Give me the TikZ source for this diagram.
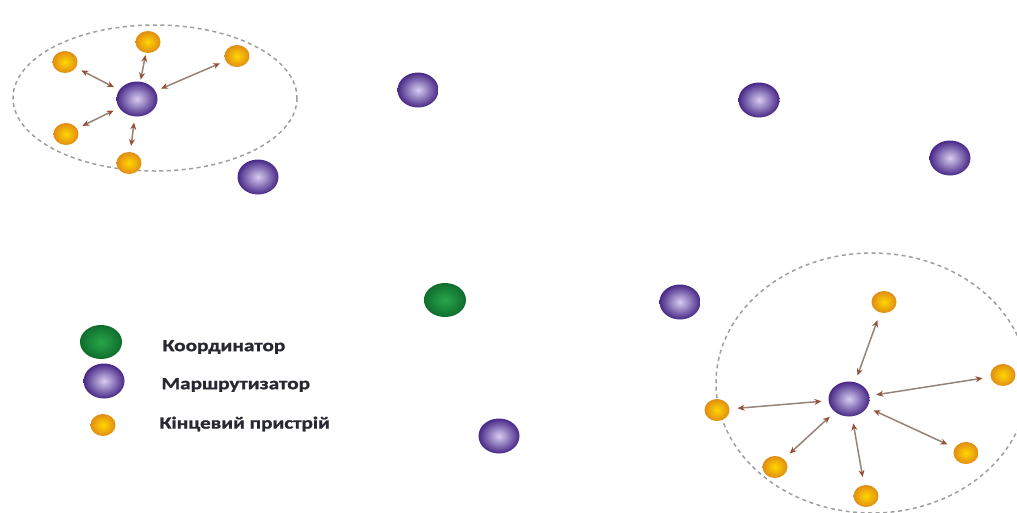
\documentclass[tikz,border=0pt]{standalone}
\usepackage{fontspec}
\setmainfont{Carlito}
\newfontfamily\legfont[FakeStretch=1.25,FakeBold=1.2]{Carlito}
\usetikzlibrary{shapes.geometric,arrows.meta}
\definecolor{rOut}{RGB}{72,40,135}
\definecolor{rIn}{RGB}{215,205,240}
\definecolor{eOut}{RGB}{225,140,20}
\definecolor{eIn}{RGB}{255,215,0}
\definecolor{gOut}{RGB}{15,110,45}
\definecolor{gIn}{RGB}{40,165,75}
\definecolor{lnk}{RGB}{150,130,120}
\definecolor{tipc}{RGB}{150,80,55}
\definecolor{txt}{RGB}{40,40,50}
\tikzset{
  router/.style={ellipse, minimum width=41pt, minimum height=35pt, inner sep=0pt, inner color=rIn, outer color=rOut},
  enddev/.style={ellipse, minimum width=25pt, minimum height=22pt, inner sep=0pt, inner color=eIn, outer color=eOut},
  coordn/.style={ellipse, minimum width=42pt, minimum height=34pt, inner sep=0pt, inner color=gIn, outer color=gOut},
  link/.style={lnk, line width=1.5pt, {Stealth[length=7pt,width=6pt,color=tipc,fill=tipc]}-{Stealth[length=7pt,width=6pt,color=tipc,fill=tipc]}, shorten <=6pt, shorten >=6pt},
  zone/.style={draw=gray!75, line width=1.5pt, dash pattern=on 4pt off 3.5pt},
  legtext/.style={anchor=west, font=\legfont\bfseries\fontsize{17}{19}\selectfont, text=txt}
}
\begin{document}
\begin{tikzpicture}[x=1pt,y=-1pt]
\useasboundingbox (0,0) rectangle (1017,512);
% zones
\draw[zone] (155,98) ellipse [x radius=142, y radius=73];
\begin{scope}
\clip (0,0) rectangle (1017,512);
\draw[zone] (872,383) ellipse [x radius=156, y radius=130];
\end{scope}
% top-left cluster
\node[router] (r1) at (137,99) {};
\node[enddev] (e1) at (65,62) {};
\node[enddev] (e2) at (148,42) {};
\node[enddev] (e3) at (237,56) {};
\node[enddev] (e4) at (66,134) {};
\node[enddev] (e5) at (129,163) {};
\foreach \e in {e1,e3,e4,e5} \draw[link] (\e) -- (r1);
\draw[link, shorten <=2pt, shorten >=2pt] (e2) -- (r1);
% other routers
\node[router] (r2) at (418,90) {};
\node[router] (r3) at (258,177) {};
\node[router] (r4) at (759,100) {};
\node[router] (r5) at (950,158) {};
\node[router] (r6) at (680,302) {};
\node[router] (r7) at (499,436) {};
\node[coordn] (c) at (445,300) {};
% bottom-right cluster
\node[router] (r8) at (849,399) {};
\node[enddev] (f1) at (884,302) {};
\node[enddev] (f2) at (1003,375) {};
\node[enddev] (f3) at (717,410) {};
\node[enddev] (f4) at (775,467) {};
\node[enddev] (f5) at (866,496) {};
\node[enddev] (f6) at (966,453) {};
\foreach \e in {f1,f2,f3,f4,f5,f6} \draw[link, shorten <=8pt, shorten >=7pt] (\e) -- (r8);
% legend
\node[coordn] (lg) at (101,342) {};
\node[router] (lr) at (104,381) {};
\node[enddev] (le) at (103,425) {};
\node[legtext] (tg) at (159,347) {Координатор};
\node[legtext] (tr) at (158,385) {Маршрутизатор};
\node[legtext] (te) at (156,424) {Кінцевий пристрій};
\end{tikzpicture}
\end{document}
